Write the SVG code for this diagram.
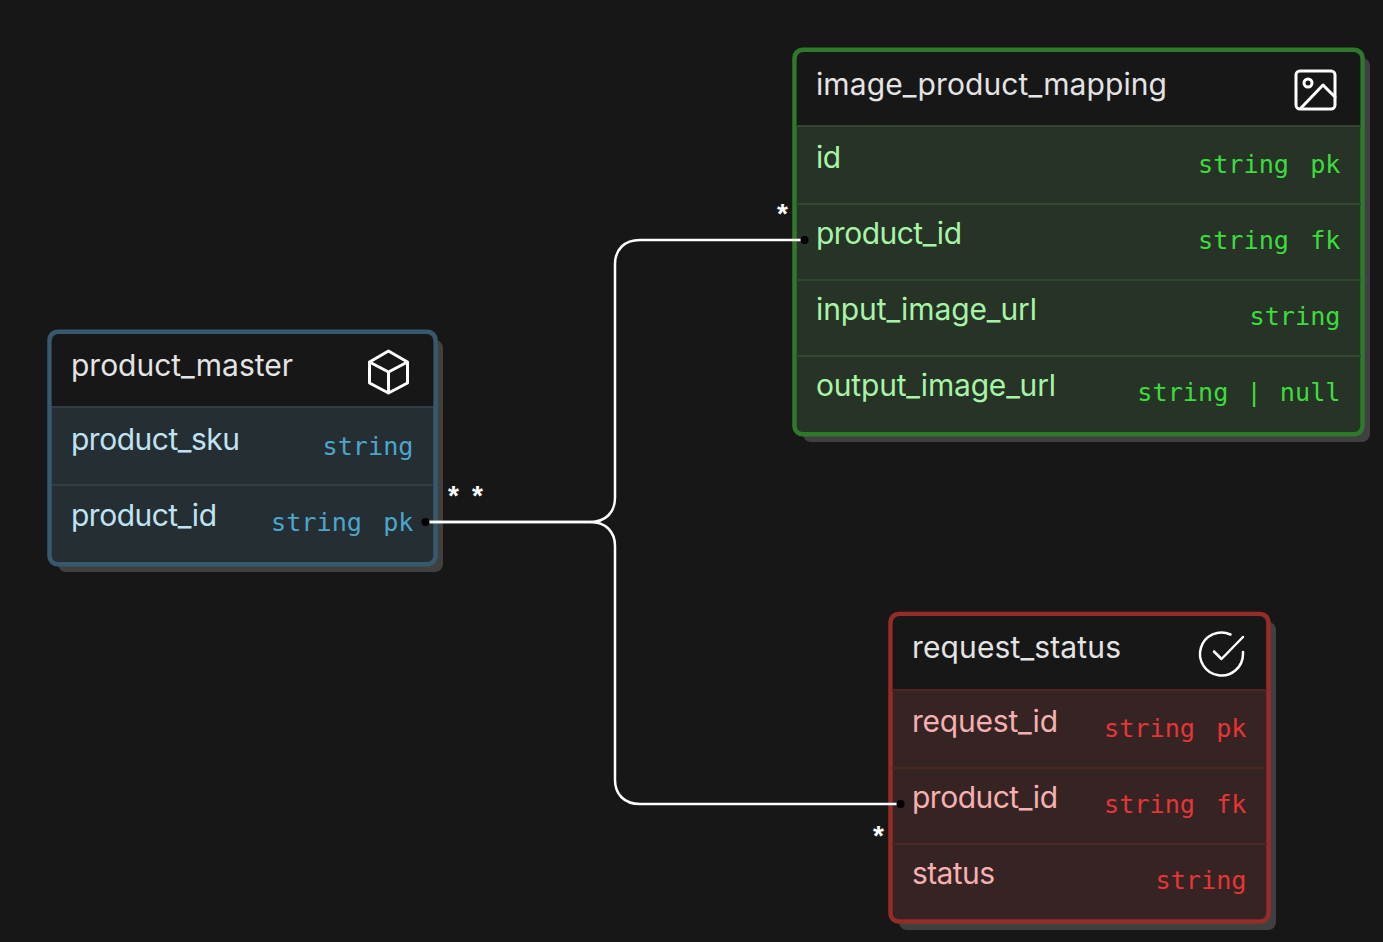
<svg xmlns="http://www.w3.org/2000/svg" width="1383" height="942" viewBox="0 0 1383 942">
<style>
.shadow{fill:#404040}
.title{font:30px Inter,"Liberation Sans",sans-serif;fill:#e4e4e4}
.name{font:30px Inter,"Liberation Sans",sans-serif}
.type{font:25.2px "DejaVu Sans Mono","Liberation Mono",monospace;text-anchor:end;word-spacing:6px}
.icon{fill:none;stroke:#fff;stroke-width:3;stroke-linecap:round;stroke-linejoin:round}
.star{font:bold 28px "Liberation Sans",sans-serif;fill:#fff;text-anchor:middle}
.conn{fill:none;stroke:#fff;stroke-width:2.500}
.box{stroke-width:4.500}
.blue .box{fill:#252e33;stroke:#36596e}.blue .name{fill:#bfe3f2}.blue .type{fill:#4ba6cc}.blue .sep{stroke:#2f3f47}
.green .box{fill:#263326;stroke:#2c7a2a}.green .name{fill:#a6f5a6}.green .type{fill:#3ddc3d}.green .sep{stroke:#2f482e}
.red .box{fill:#362323;stroke:#962b27}.red .name{fill:#f7b0b0}.red .type{fill:#e63535}.red .sep{stroke:#4d2725}
.sep{stroke-width:2}
.head{fill:#171717}
</style>
<rect width="1383" height="942" fill="#171717"/>
<g id="product_master" class="blue">
<rect class="shadow" x="58" y="340" width="385" height="232" rx="8"/>
<rect class="box" x="49.500" y="331.750" width="386" height="232.500" rx="8"/>
<path class="head" d="M51.750 406V342a8 8 0 0 1 8-8H425.250a8 8 0 0 1 8 8V406Z"/>
<path class="sep" d="M52 407H433M52 485H433"/>
<text class="title" x="71" y="376" textLength="222">product_master</text>
<path class="icon" d="M388.500 351L407.500 362V383L388.500 393L369.500 383V362ZM369.500 362L388.500 372L407.500 362M388.500 372V393"/>
<text class="name" x="71" y="450" textLength="169">product_sku</text><text class="type" x="413.500" y="455">string</text>
<text class="name" x="71" y="526" textLength="146">product_id</text><text class="type" x="413.500" y="531">string pk</text>
</g>
<g id="image_product_mapping" class="green">
<rect class="shadow" x="803" y="58" width="567" height="384" rx="8"/>
<rect class="box" x="794.500" y="49.750" width="568" height="384.500" rx="8"/>
<path class="head" d="M796.750 125V60a8 8 0 0 1 8-8H1352.250a8 8 0 0 1 8 8V125Z"/>
<path class="sep" d="M796 126H1361M796 204H1361M796 280H1361M796 356H1361"/>
<text class="title" x="816" y="95" textLength="351">image_product_mapping</text>
<rect class="icon" x="1296" y="71" width="39" height="38" rx="4"/><circle class="icon" cx="1308" cy="83" r="4"/><path class="icon" d="M1301 108L1323 85L1335 97"/>
<text class="name" x="816" y="168" textLength="25">id</text><text class="type" x="1340.500" y="173">string pk</text>
<text class="name" x="816" y="244" textLength="146">product_id</text><text class="type" x="1340.500" y="249">string fk</text>
<text class="name" x="816" y="320" textLength="221">input_image_url</text><text class="type" x="1340.500" y="325">string</text>
<text class="name" x="816" y="396" textLength="240">output_image_url</text><text class="type" x="1340.500" y="401" style="word-spacing:3px">string | null</text>
</g>
<g id="request_status" class="red">
<rect class="shadow" x="899" y="622" width="377" height="308" rx="8"/>
<rect class="box" x="890.500" y="614" width="378" height="307.500" rx="8"/>
<path class="head" d="M892.750 689V624a8 8 0 0 1 8-8H1258a8 8 0 0 1 8 8V689Z"/>
<path class="sep" d="M892 690H1267M892 768H1267M892 844H1267"/>
<text class="title" x="912" y="658" textLength="209">request_status</text>
<path class="icon" style="stroke-width:2.500" d="M1243 652V654A21.500 21.500 0 1 1 1230.500 634.500"/><path class="icon" style="stroke-width:2.500" d="M1243 637L1221.500 659L1214 651.500"/>
<text class="name" x="912" y="732" textLength="146">request_id</text><text class="type" x="1246.500" y="737">string pk</text>
<text class="name" x="912" y="808" textLength="146">product_id</text><text class="type" x="1246.500" y="813">string fk</text>
<text class="name" x="912" y="884" textLength="83">status</text><text class="type" x="1246.500" y="889">string</text>
</g>
<g id="connectors">
<path class="conn" d="M425 522H590C606 522 615 512 615 498V264C615 250 624 240 640 240H804"/>
<path class="conn" d="M425 522H590C606 522 615 532 615 546V780C615 794 624 804 640 804H900"/>
<circle cx="425.500" cy="522" r="4"/><circle cx="804.500" cy="240" r="4"/><circle cx="900.500" cy="804" r="4"/>
<text class="star" x="453.500" y="505">*</text><text class="star" x="477.500" y="505">*</text>
<text class="star" x="782.500" y="223">*</text><text class="star" x="878.500" y="845">*</text>
</g>
</svg>
